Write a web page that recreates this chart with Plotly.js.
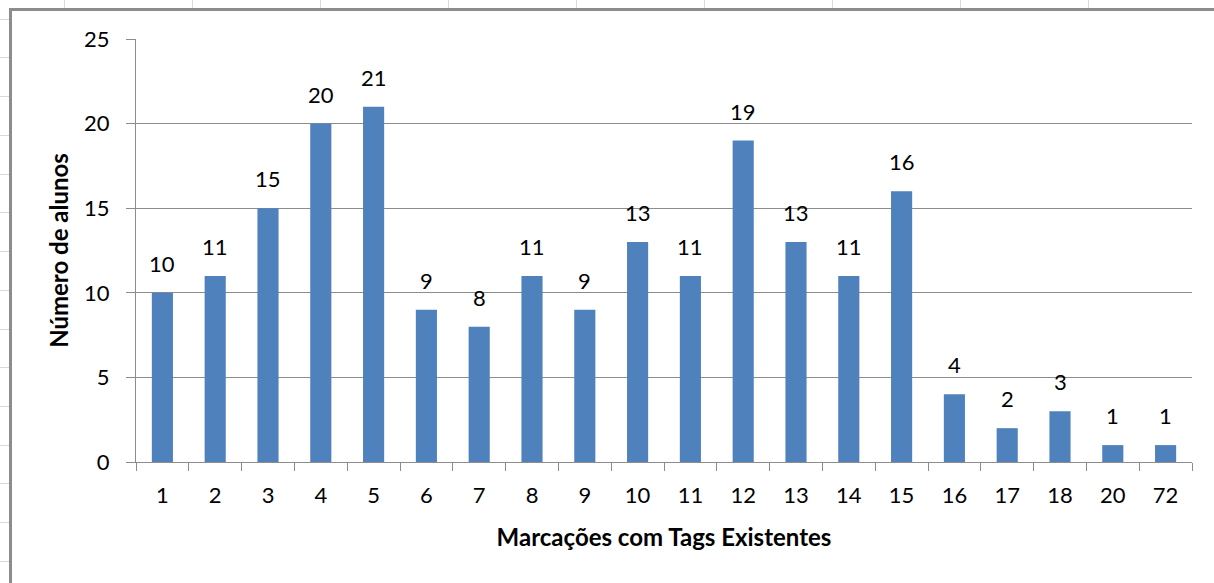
<!DOCTYPE html>
<html>
<head>
<meta charset="utf-8">
<script src="https://cdn.plot.ly/plotly-3.0.1.min.js"></script>
<style>
  html, body { margin:0; padding:0; background:#fff; width:1214px; height:583px; overflow:hidden; }
  #chart { position:absolute; left:0; top:0; width:1214px; height:583px; }
  .vl { position:absolute; top:0; width:1px; height:9px; background:#d9d9d9; z-index:5; }
  .hl { position:absolute; left:0; width:9px; height:1px; background:#d9d9d9; z-index:5; }
  #frame { position:absolute; left:9px; top:8px; width:1300px; height:700px; border-left:3px solid #8c8c8c; border-top:3px solid #8c8c8c; z-index:6; pointer-events:none; }
</style>
</head>
<body>
<div id="chart"></div>
<div id="frame"></div>
<script>
const categories = ["1","2","3","4","5","6","7","8","9","10","11","12","13","14","15","16","17","18","20","72"];
const alunos = [10,11,15,20,21,9,8,11,9,13,11,19,13,11,16,4,2,3,1,1];
const yTicks = [0,5,10,15,20,25];

const font = "Lato, 'Open Sans', sans-serif";

// data labels placed at each category's index on the category axis
const labels = categories.map((c, i) => ({
  x: i, y: alunos[i], xref: 'x', yref: 'y',
  text: String(alunos[i]), showarrow: false,
  yanchor: 'bottom', yshift: 14,
  font: { family: font, size: 22, color: '#000' }
}));

Plotly.newPlot('chart', [{
  type: 'bar',
  x: categories,
  y: alunos,
  marker: { color: '#4F81BD' },
  hoverinfo: 'x+y'
}], {
  width: 1214, height: 583,
  margin: { l: 136, r: 22, t: 39, b: 121 },
  paper_bgcolor: '#fff', plot_bgcolor: '#fff',
  bargap: 0.6,
  showlegend: false,
  font: { family: font, size: 22, color: '#000' },
  annotations: labels,
  xaxis: {
    type: 'category',
    tickson: 'boundaries',
    ticks: 'outside', ticklen: 8, tickcolor: '#8c8c8c', tickwidth: 1,
    showline: true, linecolor: '#8c8c8c', linewidth: 1,
    showgrid: false,
    tickangle: 0,
    tickfont: { family: font, size: 22, color: '#000' },
    ticklabelstandoff: 14,
    title: { text: '<b>Marcações com Tags Existentes</b>', font: { family: font, size: 24, color: '#000' }, standoff: 21 }
  },
  yaxis: {
    range: [0, 25],
    tickvals: yTicks,
    ticks: 'outside', ticklen: 9, tickcolor: '#8c8c8c', tickwidth: 1,
    showline: true, linecolor: '#8c8c8c', linewidth: 1,
    showgrid: true, gridcolor: '#8c8c8c', gridwidth: 1,
    zeroline: false,
    tickfont: { family: font, size: 22, color: '#000' },
    ticklabelstandoff: 12,
    title: { text: '<b>Número de alunos</b>', font: { family: font, size: 24, color: '#000' }, standoff: 8 }
  }
}, { displayModeBar: false, staticPlot: true });

// spreadsheet gridlines visible outside the chart frame
const colX = [64,192,320,448,576,704,832,960,1088];
colX.forEach(x => { const d = document.createElement('div'); d.className='vl'; d.style.left = x+'px'; document.body.appendChild(d); });
const rowY = [19,57,96,135,174,212,251,290,329,367,406,445,483,522,561];
rowY.forEach(y => { const d = document.createElement('div'); d.className='hl'; d.style.top = y+'px'; document.body.appendChild(d); });
</script>
</body>
</html>
